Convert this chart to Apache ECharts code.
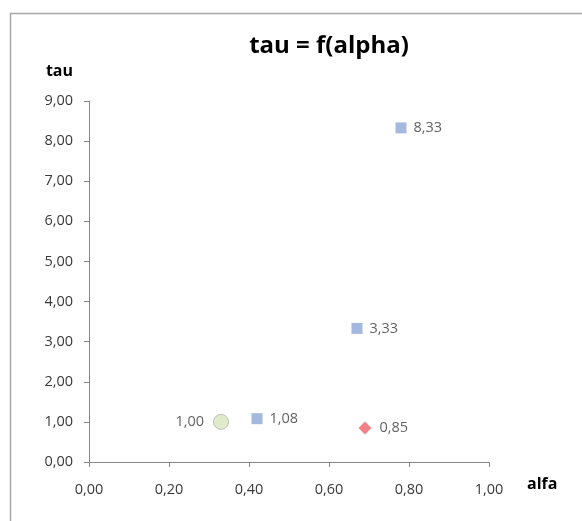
<!DOCTYPE html>
<html>
<head>
<meta charset="utf-8">
<script src="https://cdn.jsdelivr.net/npm/echarts@6/dist/echarts.min.js"></script>
<style>
  html, body { margin: 0; padding: 0; background: #fff; }
  #chart { width: 582px; height: 521px; }
</style>
</head>
<body>
<div id="chart"></div>
<script>
// data
const bluePoints = [[0.42, 1.08], [0.67, 3.33], [0.78, 8.33]]
const greenPoints = [[0.33, 1.00]]
const redPoints = [[0.69, 0.85]]

const fmt = (v) => v.toFixed(2).replace('.', ',')

const chart = echarts.init(document.getElementById('chart'))

const labelStyle = {
  show: true,
  fontFamily: 'Open Sans',
  fontSize: 14.5,
  color: '#3a3a3a',
  formatter: (p) => fmt(p.value[1])
}

const option = {
  backgroundColor: '#fff',
  animation: false,
  graphic: [
    {
      type: 'rect',
      shape: { x: 10.5, y: 13.5, width: 700, height: 700 },
      style: { fill: 'none', stroke: '#a6a6a6', lineWidth: 1.5 }
    }
  ],
  title: {
    text: 'tau = f(alpha)',
    left: 324,
    top: 29,
    textAlign: 'center',
    textStyle: { fontFamily: 'Open Sans', fontSize: 24, fontWeight: 'bold', color: '#000' }
  },
  grid: { left: 89, right: 93, top: 101, bottom: 59 },
  xAxis: {
    type: 'value',
    min: 0,
    max: 1,
    interval: 0.2,
    name: 'alfa',
    nameLocation: 'end',
    nameGap: 38,
    nameTextStyle: { fontFamily: 'Open Sans', fontSize: 16, fontWeight: 'bold', color: '#000', verticalAlign: 'top', padding: [14, 0, 0, 0] },
    axisLine: { show: true, lineStyle: { color: '#868686' } },
    axisTick: { show: true, length: 5, lineStyle: { color: '#868686' } },
    splitLine: { show: false },
    axisLabel: { formatter: fmt, fontFamily: 'Open Sans', fontSize: 14.5, color: '#3a3a3a', margin: 20 }
  },
  yAxis: {
    type: 'value',
    min: 0,
    max: 9,
    interval: 1,
    name: 'tau',
    nameLocation: 'end',
    nameGap: 22,
    nameTextStyle: { fontFamily: 'Open Sans', fontSize: 16, fontWeight: 'bold', color: '#000', align: 'right', padding: [0, 16, 0, 0] },
    axisLine: { show: true, lineStyle: { color: '#868686' } },
    axisTick: { show: true, length: 5, lineStyle: { color: '#868686' } },
    splitLine: { show: false },
    axisLabel: { formatter: fmt, fontFamily: 'Open Sans', fontSize: 14.5, color: '#3a3a3a', margin: 16 }
  },
  series: [
    {
      type: 'scatter',
      data: bluePoints,
      symbol: 'rect',
      symbolSize: 11,
      itemStyle: { color: '#8ea6d6' },
      label: Object.assign({}, labelStyle, { position: 'right', distance: 7 })
    },
    {
      type: 'scatter',
      data: greenPoints,
      symbol: 'circle',
      symbolSize: 15,
      itemStyle: { color: '#d9e6be', borderColor: '#b0b8a0', borderWidth: 1 },
      label: Object.assign({}, labelStyle, { position: 'left', distance: 9 })
    },
    {
      type: 'scatter',
      data: redPoints,
      symbol: 'diamond',
      symbolSize: 13,
      itemStyle: { color: '#e8636c' },
      label: Object.assign({}, labelStyle, { position: 'right', distance: 8 })
    }
  ]
}

chart.setOption(option)
</script>
</body>
</html>
